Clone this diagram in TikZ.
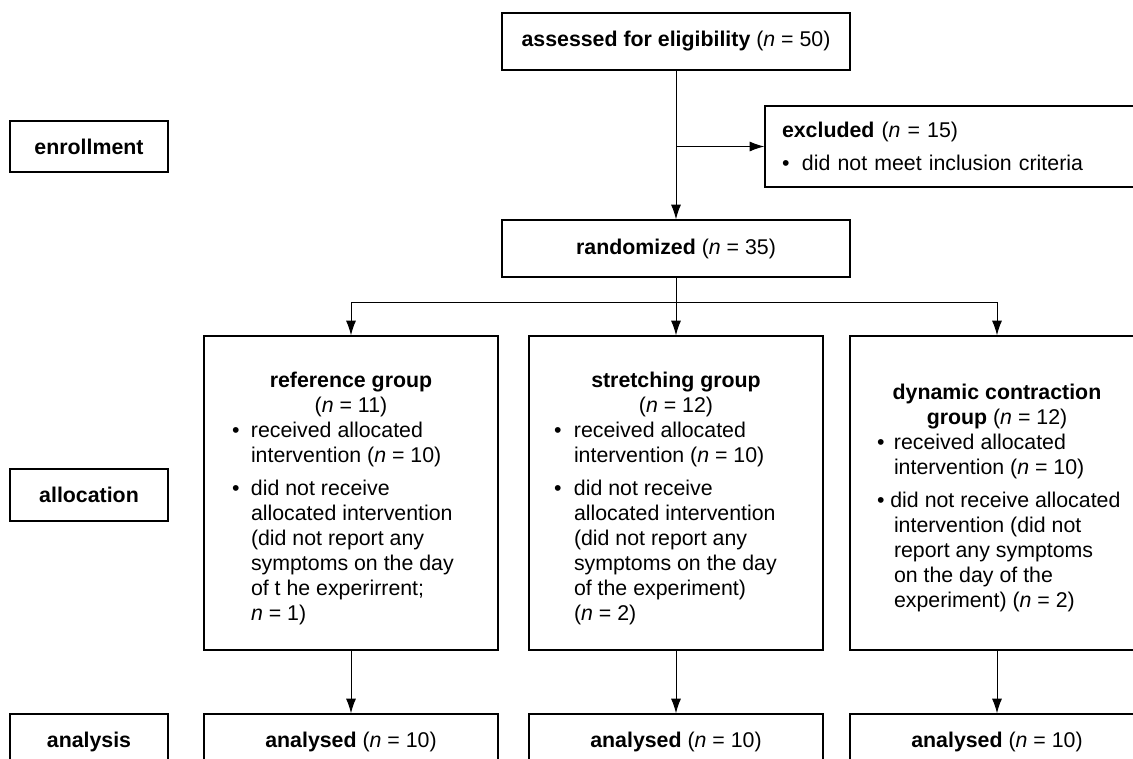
\documentclass[tikz,border=0pt]{standalone}
\usepackage{fontspec}
\setmainfont{Liberation Sans}
\usetikzlibrary{arrows.meta}
\newcommand\nn{\textit{n}}
\newcommand\topstrut{\rule{0pt}{22pt}}
\begin{document}
\begin{tikzpicture}[x=0.75pt,y=-0.75pt,
  box/.style={draw, line width=1pt, inner sep=0pt, font=\fontsize{16}{18.75}\selectfont},
  wide/.style={box, minimum width=261pt, minimum height=42.75pt},
  label/.style={box, minimum width=118.5pt},
  group/.style={box, minimum width=220.5pt, minimum height=235.5pt},
  res/.style={box, minimum width=220.5pt, minimum height=42pt},
  conn/.style={line width=0.75pt},
  arr/.style={conn, -{Latex[length=11pt,width=7.5pt]}},
]
\useasboundingbox (0,0) rectangle (1133,758);
\clip (0,0) rectangle (1133,758);

% stage labels
\node[label, minimum height=38.25pt] (enroll) at (89,146.5) {\textbf{enrollment}};
\node[label, minimum height=39pt] (alloc) at (89,495) {\textbf{allocation}};
\node[label, minimum height=42pt] (analysis) at (89,742) {\textbf{analysis}};

% main flow
\node[wide] (assessed) at (676,41.5) {\textbf{assessed for eligibility} (\nn{} = 50)};
\node[box, text width=259.5pt, inner xsep=12.75pt, minimum height=60.75pt, align=left] (excl) at (955,146.5)
  {\textbf{excluded} (\nn{} = 15)\\[6.5pt]\makebox[15pt][l]{\textbullet}did not meet inclusion criteria};
\node[wide] (rand) at (676,248.5) {\textbf{randomized} (\nn{} = 35)};

% groups
\node[group] (ref) at (351,493) {%
\begin{tabular}{@{}p{14.25pt}@{}p{164.25pt}@{}}
\multicolumn{2}{@{}c@{}}{\topstrut\textbf{reference group}}\\
\multicolumn{2}{@{}c@{}}{(\nn{} = 11)}\\
\textbullet & received allocated\\
 & intervention (\nn{} = 10)\\[6pt]
\textbullet & did not receive\\
 & allocated intervention\\
 & (did not report any\\
 & symptoms on the day\\
 & of t he experirrent;\\
 & \nn{} = 1)
\end{tabular}};

\node[group] (str) at (676,493) {%
\begin{tabular}{@{}p{15pt}@{}p{168pt}@{}}
\multicolumn{2}{@{}c@{}}{\topstrut\textbf{stretching group}}\\
\multicolumn{2}{@{}c@{}}{(\nn{} = 12)}\\
\textbullet & received allocated\\
 & intervention (\nn{} = 10)\\[6pt]
\textbullet & did not receive\\
 & allocated intervention\\
 & (did not report any\\
 & symptoms on the day\\
 & of the experiment)\\
 & (\nn{} = 2)
\end{tabular}};

\node[group] (dyn) at (997,493) {%
\begin{tabular}{@{}p{12.75pt}@{}p{167.25pt}@{}}
\multicolumn{2}{@{}c@{}}{\topstrut\textbf{dynamic contraction}}\\
\multicolumn{2}{@{}c@{}}{\textbf{group} (\nn{} = 12)}\\
\textbullet & received allocated\\
 & intervention (\nn{} = 10)\\[6pt]
\multicolumn{2}{@{}l@{}}{\rlap{\textbullet{} did not receive allocated}}\\
 & intervention (did not\\
 & report any symptoms\\
 & on the day of the\\
 & experiment) (\nn{} = 2)
\end{tabular}};

% analysis
\node[res] (an1) at (351,742) {\textbf{analysed} (\nn{} = 10)};
\node[res] (an2) at (676,742) {\textbf{analysed} (\nn{} = 10)};
\node[res] (an3) at (997,742) {\textbf{analysed} (\nn{} = 10)};

% connectors
\draw[arr] (assessed) -- (rand);
\draw[arr] (excl.west -| assessed.south) -- (excl.west);
\coordinate (br) at (676,302);
\draw[conn] (rand) -- (br);
\draw[conn] (ref.north |- br) -- (dyn.north |- br);
\draw[arr] (ref.north |- br) -- (ref.north);
\draw[arr] (br) -- (str.north);
\draw[arr] (dyn.north |- br) -- (dyn.north);
\draw[arr] (ref) -- (an1);
\draw[arr] (str) -- (an2);
\draw[arr] (dyn) -- (an3);
\end{tikzpicture}
\end{document}
